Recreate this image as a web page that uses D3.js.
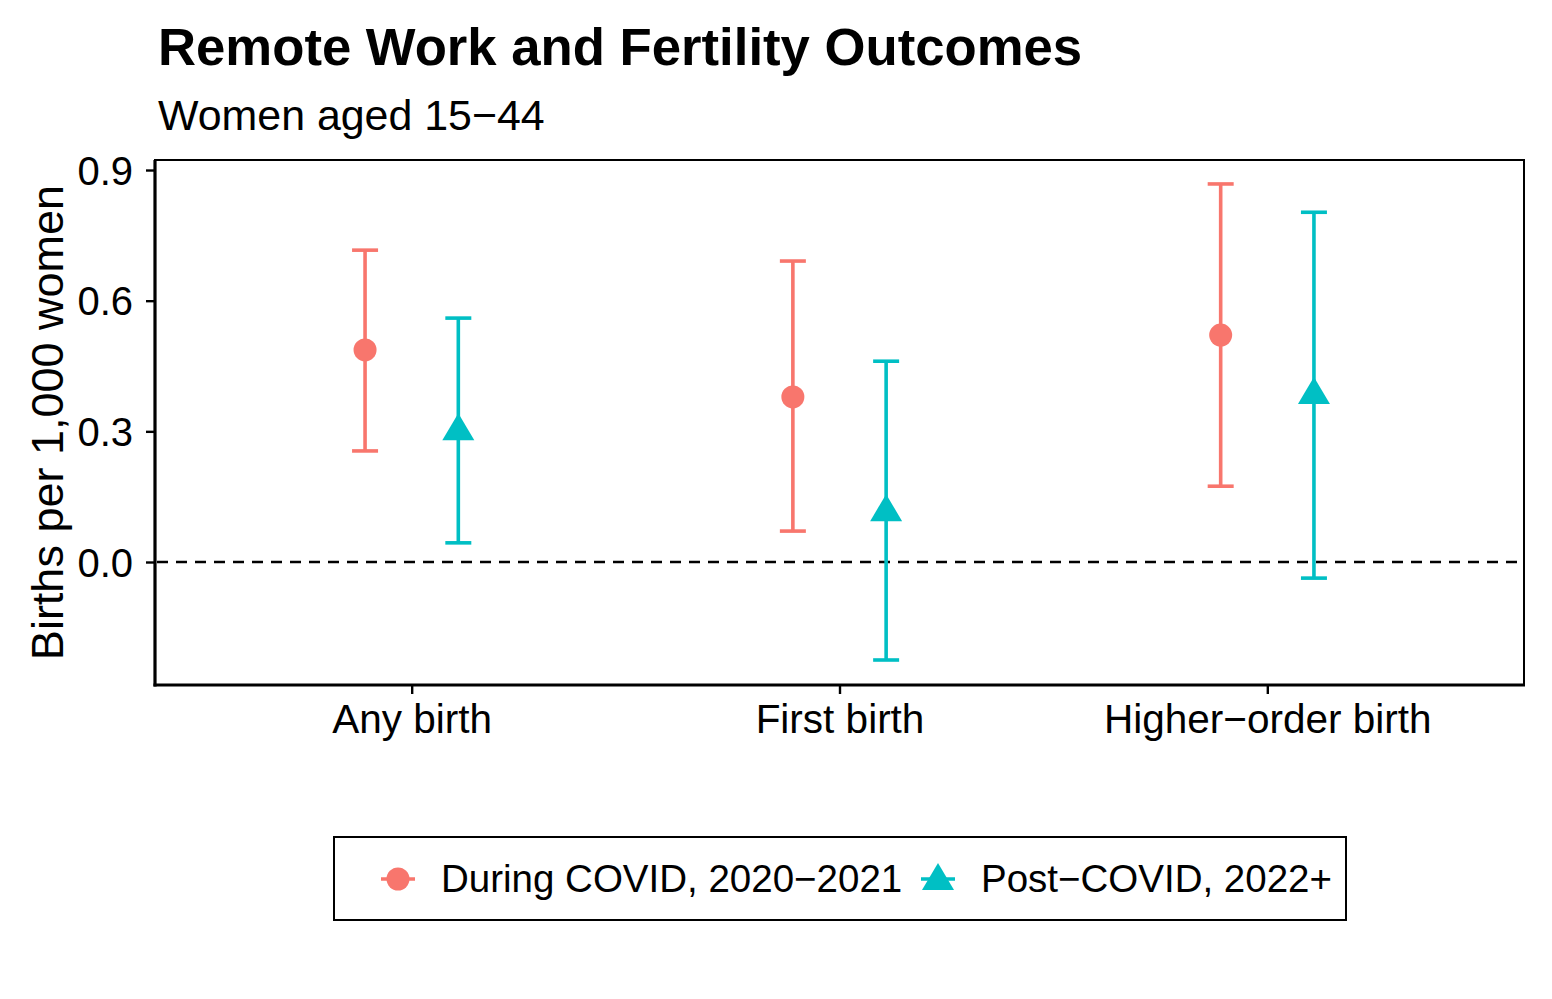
<!DOCTYPE html>
<html>
<head>
<meta charset="utf-8">
<script src="https://cdn.jsdelivr.net/npm/d3@7"></script>
<style>
  html, body { margin: 0; padding: 0; background: #fff; }
  svg { display: block; font-family: "Liberation Sans", Arial, Helvetica, sans-serif; }
</style>
</head>
<body>
<svg id="chart" width="1552" height="999"></svg>
<script>
// ---- Data ----
const categories = ["Any birth", "First birth", "Higher\u2212order birth"];
const seriesNames = ["During COVID, 2020\u22122021", "Post\u2212COVID, 2022+"];
const duringEst = [0.487, 0.379, 0.521];
const duringLo  = [0.255, 0.071, 0.174];
const duringHi  = [0.716, 0.691, 0.868];
const postEst   = [0.305, 0.119, 0.388];
const postLo    = [0.044, -0.225, -0.037];
const postHi    = [0.560, 0.461, 0.803];
const yTicks = [0.0, 0.3, 0.6, 0.9];
const colors = ["#F8766D", "#00BFC4"];

const rows = [];
categories.forEach((c, i) => {
  rows.push({cat: c, s: 0, est: duringEst[i], lo: duringLo[i], hi: duringHi[i]});
  rows.push({cat: c, s: 1, est: postEst[i], lo: postLo[i], hi: postHi[i]});
});

const FONT = "Liberation Sans, Arial, Helvetica, sans-serif";
const svg = d3.select("#chart");
const P = {left: 155, right: 1524, top: 160, bottom: 685};

const y = d3.scaleLinear().domain([-0.2824, 0.9230]).range([P.bottom, P.top]);
// discrete x with ggplot-like 0.6 expansion
const xIdx = d3.scaleLinear().domain([1 - 0.6, categories.length + 0.6]).range([P.left, P.right]);
const x = c => xIdx(categories.indexOf(c) + 1);
const dodge = 0.109; // in category units

// Title and subtitle
svg.append("text").attr("x", 158).attr("y", 65)
  .attr("font-size", 52.7).attr("font-weight", "bold").text("Remote Work and Fertility Outcomes");
svg.append("text").attr("x", 158).attr("y", 130)
  .attr("font-size", 42.9).text("Women aged 15\u221244");

// Y axis
const yAxis = d3.axisLeft(y).tickValues(yTicks).tickFormat(d3.format(".1f")).tickSize(9).tickPadding(13);
const gy = svg.append("g").attr("transform", `translate(${P.left},0)`).call(yAxis);
gy.select(".domain").remove();
gy.selectAll(".tick line").attr("stroke", "#000").attr("stroke-width", 2.4);
gy.selectAll(".tick text").attr("font-size", 40).attr("fill", "#000")
  .attr("font-family", FONT).attr("dy", "0.35em");

// X axis
const xAxis = d3.axisBottom(d3.scalePoint().domain(categories).range([x(categories[0]), x(categories[categories.length-1])]))
  .tickSize(9).tickPadding(10);
const gx = svg.append("g").attr("transform", `translate(0,${P.bottom})`).call(xAxis);
gx.select(".domain").remove();
gx.selectAll(".tick line").attr("stroke", "#000").attr("stroke-width", 2.4);
gx.selectAll(".tick text").attr("font-size", 40.5).attr("fill", "#000")
  .attr("font-family", FONT).attr("dy", "0.71em");

// Panel border
svg.append("rect").attr("x", P.left).attr("y", P.top)
  .attr("width", P.right - P.left).attr("height", P.bottom - P.top)
  .attr("fill", "none").attr("stroke", "#000").attr("stroke-width", 2);
svg.append("line").attr("x1", P.left).attr("x2", P.left).attr("y1", P.top).attr("y2", P.bottom + 1.5)
  .attr("stroke", "#000").attr("stroke-width", 3.2);
svg.append("line").attr("x1", P.left - 1.5).attr("x2", P.right + 1).attr("y1", P.bottom).attr("y2", P.bottom)
  .attr("stroke", "#000").attr("stroke-width", 3.2);

// Y title
svg.append("text").attr("transform", `translate(63,${(P.top + P.bottom) / 2}) rotate(-90)`)
  .attr("text-anchor", "middle").attr("font-size", 45).text("Births per 1,000 women");

// Zero reference line
svg.append("line").attr("x1", P.left + 2).attr("x2", P.right - 2)
  .attr("y1", y(0)).attr("y2", y(0))
  .attr("stroke", "#000").attr("stroke-width", 2.6).attr("stroke-dasharray", "11,8");

const px = d => xIdx(categories.indexOf(d.cat) + 1 + (d.s === 0 ? -dodge : dodge));
const capW = 13;
const LW = 3.6;

const g = svg.append("g");
g.selectAll("line.err").data(rows).join("line")
  .attr("x1", px).attr("x2", px).attr("y1", d => y(d.lo)).attr("y2", d => y(d.hi))
  .attr("stroke", d => colors[d.s]).attr("stroke-width", LW);
g.selectAll("line.capT").data(rows).join("line")
  .attr("x1", d => px(d) - capW).attr("x2", d => px(d) + capW)
  .attr("y1", d => y(d.hi)).attr("y2", d => y(d.hi))
  .attr("stroke", d => colors[d.s]).attr("stroke-width", LW);
g.selectAll("line.capB").data(rows).join("line")
  .attr("x1", d => px(d) - capW).attr("x2", d => px(d) + capW)
  .attr("y1", d => y(d.lo)).attr("y2", d => y(d.lo))
  .attr("stroke", d => colors[d.s]).attr("stroke-width", LW);

const circleSym = d3.symbol().type(d3.symbolCircle).size(Math.PI * 11.5 * 11.5);
const triPath = "M0,-16 L16,11 L-16,11 Z";
g.selectAll("path.pt").data(rows).join("path")
  .attr("transform", d => `translate(${px(d)},${y(d.est)})`)
  .attr("d", d => d.s === 0 ? circleSym() : triPath)
  .attr("fill", d => colors[d.s]);

// Legend
const L = svg.append("g");
L.append("rect").attr("x", 334).attr("y", 837).attr("width", 1012).attr("height", 83)
  .attr("fill", "#fff").attr("stroke", "#000").attr("stroke-width", 2);
const legItems = [
  {name: seriesNames[0], s: 0, kx: 398, tx: 441},
  {name: seriesNames[1], s: 1, kx: 938, tx: 981}
];
legItems.forEach(it => {
  L.append("line").attr("x1", it.kx - 17).attr("x2", it.kx + 17).attr("y1", 879).attr("y2", 879)
    .attr("stroke", colors[it.s]).attr("stroke-width", LW);
  L.append("path").attr("transform", `translate(${it.kx},${879})`)
    .attr("d", it.s === 0 ? circleSym() : triPath).attr("fill", colors[it.s]);
  L.append("text").attr("x", it.tx).attr("y", 879).attr("dy", "0.35em")
    .attr("font-size", 38.5).text(it.name);
});
</script>
</body>
</html>
